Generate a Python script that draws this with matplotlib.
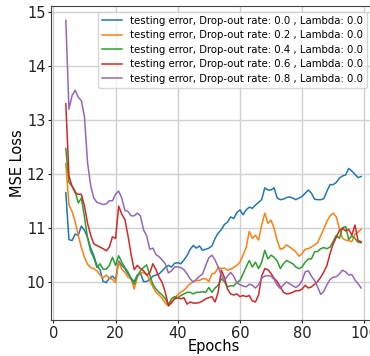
import numpy as np
import matplotlib
matplotlib.use("Agg")
import matplotlib.pyplot as plt

# epochs 4..99
epochs = list(range(4, 100))

# testing error for each drop-out rate (lambda = 0.0)
err_d00 = [11.65, 10.78, 10.76, 10.88, 10.86, 11.03, 10.95, 10.82, 10.62, 10.48,
           10.30, 10.22, 10.00, 9.98, 10.06, 10.10, 10.04, 10.38, 10.30, 10.24,
           10.14, 10.06, 10.00, 10.12, 10.16, 10.00, 10.00, 10.04, 10.10, 10.12,
           10.14, 10.20, 10.26, 10.30, 10.27, 10.34, 10.35, 10.33, 10.40, 10.48,
           10.60, 10.67, 10.62, 10.66, 10.58, 10.60, 10.62, 10.66, 10.80, 10.90,
           10.96, 11.06, 11.10, 11.20, 11.17, 11.28, 11.33, 11.24, 11.33, 11.38,
           11.36, 11.42, 11.47, 11.52, 11.74, 11.70, 11.70, 11.74, 11.55, 11.52,
           11.53, 11.56, 11.57, 11.55, 11.52, 11.55, 11.58, 11.64, 11.70, 11.64,
           11.53, 11.52, 11.52, 11.54, 11.68, 11.80, 11.80, 11.84, 11.92, 11.96,
           11.98, 12.10, 12.05, 11.99, 11.93, 11.95]
err_d02 = [12.19, 11.43, 11.30, 11.11, 10.86, 10.63, 10.45, 10.32, 10.26, 10.24,
           10.20, 10.12, 10.07, 10.12, 10.06, 10.04, 9.98, 10.36, 10.23, 10.17,
           10.08, 10.05, 9.86, 10.08, 10.17, 10.16, 10.14, 10.02, 9.90, 9.80,
           9.75, 9.69, 9.60, 9.55, 9.60, 9.69, 9.76, 9.80, 9.84, 9.90,
           9.96, 10.00, 10.02, 10.02, 10.05, 10.05, 10.00, 10.14, 10.16, 10.26,
           10.24, 10.25, 10.21, 10.23, 10.26, 10.30, 10.36, 10.49, 10.63, 10.93,
           10.80, 10.86, 10.77, 11.05, 11.27, 11.08, 11.14, 10.99, 10.76, 10.60,
           10.62, 10.68, 10.64, 10.60, 10.55, 10.47, 10.52, 10.60, 10.61, 10.64,
           10.68, 10.72, 10.85, 10.98, 11.12, 11.22, 11.27, 11.20, 10.98, 10.80,
           10.77, 10.76, 10.74, 10.88, 10.92, 10.97]
err_d04 = [12.47, 11.84, 11.77, 11.68, 11.46, 11.55, 11.20, 10.80, 10.56, 10.44,
           10.26, 10.33, 10.23, 10.23, 10.30, 10.45, 10.30, 10.48, 10.36, 10.26,
           10.18, 10.05, 9.95, 10.10, 10.20, 10.26, 10.31, 10.12, 9.95, 9.86,
           9.80, 9.75, 9.68, 9.57, 9.68, 9.72, 9.70, 9.74, 9.77, 9.80,
           9.80, 9.77, 9.80, 9.80, 9.81, 9.80, 9.89, 9.80, 9.88, 9.93,
           10.05, 10.00, 9.90, 9.92, 9.92, 9.98, 10.02, 10.14, 10.27, 10.39,
           10.27, 10.36, 10.24, 10.36, 10.58, 10.42, 10.49, 10.45, 10.38, 10.24,
           10.33, 10.39, 10.36, 10.33, 10.27, 10.24, 10.27, 10.36, 10.42, 10.42,
           10.55, 10.56, 10.61, 10.63, 10.61, 10.64, 10.74, 10.86, 10.80, 11.00,
           11.02, 10.78, 10.85, 10.80, 10.73, 10.72]
err_d06 = [13.30, 11.96, 11.77, 11.65, 11.62, 11.62, 11.40, 11.08, 10.86, 10.70,
           10.67, 10.64, 10.61, 10.57, 10.64, 10.83, 10.80, 11.40, 11.25, 11.15,
           10.85, 10.50, 10.22, 10.30, 10.24, 10.20, 10.12, 10.16, 10.33, 10.22,
           10.08, 9.98, 9.80, 9.55, 9.62, 9.68, 9.70, 9.68, 9.70, 9.58,
           9.62, 9.60, 9.60, 9.61, 9.64, 9.68, 9.70, 9.72, 9.62, 9.80,
           10.21, 10.08, 9.86, 9.77, 9.75, 9.77, 9.72, 9.74, 9.72, 9.74,
           9.64, 9.62, 9.75, 10.10, 10.24, 10.22, 10.15, 10.06, 10.00, 9.90,
           9.80, 9.77, 9.78, 9.80, 9.83, 9.83, 9.86, 9.93, 9.88, 9.90,
           9.95, 10.00, 10.08, 10.18, 10.30, 10.52, 10.70, 10.82, 10.95, 10.99,
           10.94, 10.97, 10.86, 11.05, 10.76, 10.74]
err_d08 = [14.85, 13.20, 13.45, 13.55, 13.42, 13.36, 13.05, 12.20, 11.78, 11.55,
           11.47, 11.45, 11.43, 11.44, 11.50, 11.50, 11.62, 11.68, 11.55, 11.32,
           11.30, 11.22, 11.22, 11.27, 11.22, 10.96, 10.85, 10.60, 10.62, 10.50,
           10.46, 10.40, 10.33, 10.16, 10.20, 10.27, 10.27, 10.26, 10.22, 10.14,
           10.05, 9.99, 10.04, 10.10, 10.14, 10.30, 10.44, 10.49, 10.40, 10.27,
           10.12, 10.02, 10.10, 10.17, 10.10, 9.98, 9.94, 9.92, 9.90, 9.95,
           9.93, 9.88, 9.94, 10.06, 10.10, 10.11, 10.10, 10.04, 9.93, 9.87,
           9.94, 9.99, 9.96, 9.92, 9.89, 9.93, 10.02, 10.18, 10.20, 10.10,
           10.02, 9.90, 9.76, 9.82, 9.94, 10.04, 10.08, 10.09, 10.14, 10.21,
           10.18, 10.12, 10.13, 10.03, 9.96, 9.88]

drop_rates = [0.0, 0.2, 0.4, 0.6, 0.8]
lambdas = [0.0, 0.0, 0.0, 0.0, 0.0]
series = [err_d00, err_d02, err_d04, err_d06, err_d08]

fig = plt.figure(figsize=(3.7, 3.56), dpi=100)
ax = fig.add_axes([0.138, 0.101, 0.878, 0.882])

for d, lam, err in zip(drop_rates, lambdas, series):
    ax.plot(epochs, err, lw=1.1,
            label="testing error, Drop-out rate: " + str(d) + " , Lambda: " + str(lam))

ax.grid(True, color="#d0d0d0", lw=1.0)
ax.set_xticks([0, 20, 40, 60, 80, 100])
ax.set_yticks([10, 11, 12, 13, 14, 15])
ax.tick_params(labelsize=10.5, length=2.5, pad=1.5, colors="#222222")
for s in ax.spines.values():
    s.set_color("#444444")
ax.set_xlabel("Epochs", fontsize=10.5, labelpad=-1)
ax.set_ylabel("MSE Loss", fontsize=10.5, labelpad=1)
# legend sits a little inside the (cropped) right edge
leg = ax.legend(loc="upper right", bbox_to_anchor=(0.974, 0.982), borderaxespad=0,
                fontsize=7.3, handlelength=2.0, labelspacing=0.45, borderpad=0.4)

fig.savefig("out.png", dpi=100)
